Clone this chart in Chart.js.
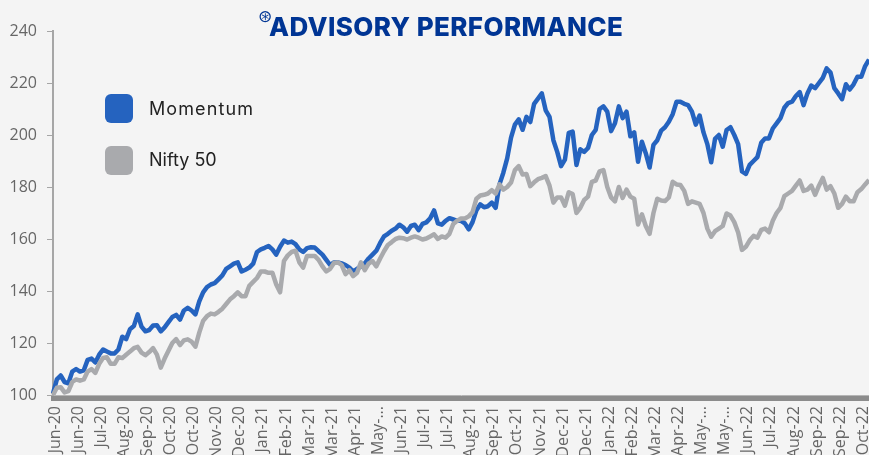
<!DOCTYPE html>
<html>
<head>
<meta charset="utf-8">
<title>Advisory Performance</title>
<script src="https://cdn.jsdelivr.net/npm/chart.js@4"></script>
<style>
  html, body { margin: 0; padding: 0; background: #f4f4f4; overflow: hidden; }
  #wrap { position: relative; width: 869px; height: 455px; }
  canvas { position: absolute; left: 0; top: 0; }
  #title { position: absolute; left: 269px; top: 11px; font: 800 26px Inter, sans-serif; letter-spacing: 0.4px; color: #003594; white-space: nowrap; }
  #mark { position: absolute; left: 258px; top: 6px; font: 17px "DejaVu Sans", sans-serif; color: #003594; }
  .swatch { position: absolute; left: 105px; width: 28px; height: 29px; border-radius: 6px; }
  .name { position: absolute; left: 149px; font: 18px Inter, sans-serif; color: #222; white-space: nowrap; }
</style>
</head>
<body>
<div id="wrap">
  <canvas id="perfChart" width="869" height="455"></canvas>
  <div id="mark">⊛</div>
  <div id="title">ADVISORY PERFORMANCE</div>
  <div class="swatch" style="top:94px;background:#2563bf"></div>
  <div class="name" style="top:98px;letter-spacing:1.1px">Momentum</div>
  <div class="swatch" style="top:146px;background:#a9aaad"></div>
  <div class="name" style="top:149px">Nifty 50</div>
</div>
<script>
// one x label every 6 points
const tickLabels = ['Jun-20','Jun-20','Jul-20','Aug-20','Sep-20','Oct-20','Oct-20','Nov-20','Dec-20','Jan-21','Feb-21','Mar-21',
  'Mar-21','Apr-21','May-...','Jun-21','Jul-21','Jul-21','Aug-21','Sep-21','Oct-21','Nov-21','Dec-21','Dec-21',
  'Jan-22','Feb-22','Mar-22','Apr-22','May-...','May-...','Jun-22','Jul-22','Aug-22','Sep-22','Sep-22','Oct-22'];

const momentum = [100.5,106,107.5,105,104.5,109,110,109,109.5,113.5,114,112.5,115.5,117.5,116.7,116,116,117.5,122.4,121.5,
  125.3,126.5,131,126.3,124.5,125,126.7,126.8,124.5,126,128,130,130.8,129,132.5,133.5,132.5,131,136,139.5,
  141.5,142.5,143,144.5,146,148.5,149.5,150.5,151,147.5,148.2,149,150.5,155,156,156.6,157.3,156,154,157,
  159.4,158.6,159,158,156,155,156.5,156.8,156.7,155.3,154,152,150,151,151,150.6,150,149,147.5,148.5,
  149.5,150.6,152.5,154,155.5,158.5,161,162,163.2,164,165.5,164.5,162.8,165,165.5,163.4,165.8,166.4,168,171,
  166,165.5,167,168,167.5,167,167,166,163.7,166.5,171,173.3,172.2,172.6,174,172,181,185.5,191,199,
  204,206,202,207,205,212,214,216,209.5,207,198,193.5,188,190.5,200.8,201.3,188.5,194.5,193.5,195,
  200,202,210,211,209,201.5,204.5,211,206.5,209,199.5,201,189.7,197.4,193,187.5,196.2,198,201.7,203,
  205.1,208,212.8,212.8,212,211.5,209,204,207.5,201,196.5,189.5,198.5,200,195.5,201.9,203,200,196.5,186,
  185,188.5,190,191.5,197,198.7,198.7,202.5,204.5,206.5,210.5,212.3,212.8,215,216.5,211.5,216,219,218,220,
  222,225.6,224,218,216,213.8,219.5,217.5,219.5,222.4,222.4,226.5,229];

const nifty50 = [100,102.8,103,101,101.5,105,106,105.5,106,109,110,108.5,112,114.2,114.5,112,112,114.5,114.2,115.5,
  116.7,118,118.5,116.3,115.3,116.5,118,115.5,110.5,114,117,120,121.5,119.2,121,121.4,120.5,118.6,124,128.5,
  130.3,131.3,131,132,133.2,135,136.8,138,139.5,138,138,142,143.5,145,147.5,147.5,147,147,142.5,139.5,
  151.5,153.7,155,155.5,151,149,153.5,153.5,153.5,152,149.5,147.5,148.5,150.8,151,150,146.5,148,145.7,147,
  151,148,150.5,151.5,149.5,152.5,155.3,157.7,158.8,160,160.5,160.3,159.8,160.5,161,160.5,159.8,160.2,161,161.8,
  160,161,160.5,162,165.8,167,167.9,167.9,168.7,170.3,175.5,176.7,177,177.5,178.8,177.5,181,179,180,181.7,
  186.5,188,184.8,185,180.3,181.8,183,183.5,184.2,180.5,174,176,176,172.8,178,177.3,170,172,175,176.3,
  182,182.5,186,186.5,180,176,174.5,180,175.8,179,176.3,175.5,165.6,169.5,165,162,170,175.5,174.8,174.6,
  176,182,181,180.8,178.5,173.5,174.5,174,173.5,170,164,160.9,163,164,165,169.8,169,166.5,162.5,155.8,
  157,159.5,161.2,160.5,163.5,164,162.6,167,170,172,176.5,177.5,178.5,180.5,182.5,178.5,179,180.5,177,180.5,
  183.5,179,180.3,177.5,172,173.5,176.3,174.5,174.5,178,179.2,181,182.7];

const ctx = document.getElementById('perfChart').getContext('2d');
const chart = new Chart(ctx, {
    type: 'line',
    data: {
        labels: momentum.map((_, i) => i),
        datasets: [
            { label: 'Momentum', data: momentum, borderColor: '#2563bf', borderWidth: 4.5, pointRadius: 0, tension: 0, order: 2, borderJoinStyle: 'round' },
            { label: 'Nifty 50', data: nifty50, borderColor: '#a9aaad', borderWidth: 4.5, pointRadius: 0, tension: 0, order: 1, borderJoinStyle: 'round' }
        ]
    },
    options: {
        responsive: false,
        animation: false,
        layout: { padding: { top: 31, left: 0, right: 0, bottom: 0 } },
        plugins: { legend: { display: false }, tooltip: { enabled: false } },
        scales: {
            x: {
                afterFit(scale) { scale.height = 60; scale.paddingLeft = 0; scale.paddingRight = 0; },
                border: { color: '#b5b5b5', width: 1 },
                grid: { drawOnChartArea: false, drawTicks: true, tickLength: 6, tickWidth: 5, tickColor: '#8c8c8c' },
                ticks: {
                    autoSkip: false, minRotation: 90, maxRotation: 90, padding: 5, labelOffset: 2,
                    color: '#666', font: { family: 'Open Sans', size: 16 },
                    callback: (value, index) => index % 6 === 0 ? tickLabels[index / 6] : ''
                }
            },
            y: {
                min: 100, max: 240,
                afterFit(scale) { scale.width = 53; },
                border: { color: '#a6a6a6', width: 2 },
                grid: { drawOnChartArea: false, tickLength: 6, tickColor: '#a6a6a6', tickWidth: 1 },
                ticks: { stepSize: 20, padding: 10, color: '#666', font: { family: 'Open Sans', size: 16 } }
            }
        }
    }
});
</script>
</body>
</html>
